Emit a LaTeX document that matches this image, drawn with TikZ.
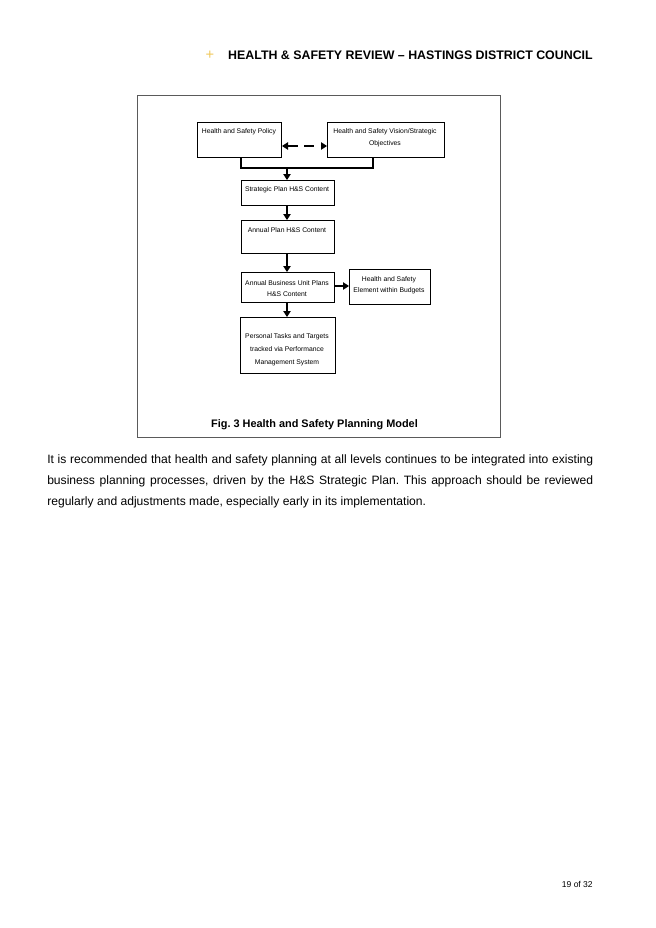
\documentclass[tikz,border=0pt]{standalone}
\usepackage{fontspec}
\setmainfont{Liberation Sans}
\usetikzlibrary{arrows.meta}
\frenchspacing
\definecolor{plusyellow}{RGB}{240,200,90}
\definecolor{framegray}{RGB}{90,90,90}
\tikzset{
  px/.style={x=0.75pt,y=-0.75pt},
  box/.style={draw=black,line width=0.75pt,inner sep=0pt,anchor=north west},
  boxtext/.style={font=\fontsize{5.1}{9}\selectfont,align=center,inner sep=0pt,anchor=base},
  conn/.style={line width=1.5pt},
  arr/.style={line width=1.5pt,-{Triangle[length=4.5pt,width=5.5pt]}},
}
\begin{document}
\begin{tikzpicture}[px]
\useasboundingbox (0,0) rectangle (656,928);
\fill[white] (0,0) rectangle (656,928);
% header
\node[anchor=base,text=plusyellow,inner sep=0pt,font=\fontsize{11}{12}\selectfont] (plus) at (210,59) {+};
\node[anchor=base east,inner sep=0pt,font=\fontsize{9.29}{11}\selectfont\bfseries] (header) at (593,59) {HEALTH \& SAFETY REVIEW – HASTINGS DISTRICT COUNCIL};
% frame
\node[draw=framegray,line width=0.75pt,inner sep=0pt,minimum width=363*0.75pt,minimum height=342*0.75pt,anchor=north west] (frame) at (137,95) {};
% boxes
\node[box,minimum width=84*0.75pt,minimum height=35*0.75pt] (policy) at (197,122) {};
\node[box,minimum width=117*0.75pt,minimum height=35*0.75pt] (vision) at (327,122) {};
\node[box,minimum width=93*0.75pt,minimum height=25*0.75pt] (strategic) at (241,180) {};
\node[box,minimum width=93*0.75pt,minimum height=33*0.75pt] (annual) at (241,220) {};
\node[box,minimum width=93*0.75pt,minimum height=30*0.75pt] (business) at (241,272) {};
\node[box,minimum width=81*0.75pt,minimum height=35*0.75pt] (element) at (349,269) {};
\node[box,minimum width=95*0.75pt,minimum height=56*0.75pt] (personal) at (240,317) {};
% box texts
\node[boxtext] (tpolicy) at (239,133) {Health and Safety Policy};
\node[boxtext] (tvision1) at (385,133) {Health and Safety Vision/Strategic};
\node[boxtext] (tvision2) at (385,145) {Objectives};
\node[boxtext] (tstrategic) at (287,191) {Strategic Plan H\&S Content};
\node[boxtext] (tannual) at (287,232) {Annual Plan H\&S Content};
\node[boxtext] (tbusiness1) at (287,285) {Annual Business Unit Plans};
\node[boxtext] (tbusiness2) at (287,296) {H\&S Content};
\node[boxtext] (telement1) at (389,281) {Health and Safety};
\node[boxtext] (telement2) at (389,292) {Element within Budgets};
\node[boxtext] (tpersonal1) at (287,338) {Personal Tasks and Targets};
\node[boxtext] (tpersonal2) at (287,351) {tracked via Performance};
\node[boxtext] (tpersonal3) at (287,364) {Management System};
% connectors
\coordinate (join) at (287,168);
\draw[conn] (policy.south -| 241,0) |- (join) -| (vision.south -| 373,0);
\draw[arr] (join) -- (strategic.north -| join);
\draw[line width=1.5pt,dash pattern=on 7.5pt off 5pt,{Triangle[length=4.5pt,width=5.5pt]}-{Triangle[length=4.5pt,width=5.5pt]}] (policy.east |- 0,146) -- (vision.west |- 0,146);
\draw[arr] (strategic.south -| 287,0) -- (annual.north -| 287,0);
\draw[arr] (annual.south -| 287,0) -- (business.north -| 287,0);
\draw[arr] (business.east |- 0,286) -- (element.west |- 0,286);
\draw[arr] (business.south -| 287,0) -- (personal.north -| 287,0);
% caption
\node[anchor=base,inner sep=0pt,font=\fontsize{8.18}{10}\selectfont\bfseries] (caption) at (314.5,427) {Fig. 3 Health and Safety Planning Model};
% paragraph
\node[anchor=base west,inner sep=0pt,text width=546*0.75pt,align=justify,font=\fontsize{9.08}{15.75}\selectfont] (para) at (47,463) {It is recommended that health and safety planning at all levels continues to be integrated into existing\linebreak business planning processes, driven by the H\&S Strategic Plan. This approach should be reviewed\linebreak regularly and adjustments made, especially early in its implementation.};
% page number
\node[anchor=base east,inner sep=0pt,font=\fontsize{6.4}{8}\selectfont] (page) at (593,887) {19 of 32};
\end{tikzpicture}
\end{document}
